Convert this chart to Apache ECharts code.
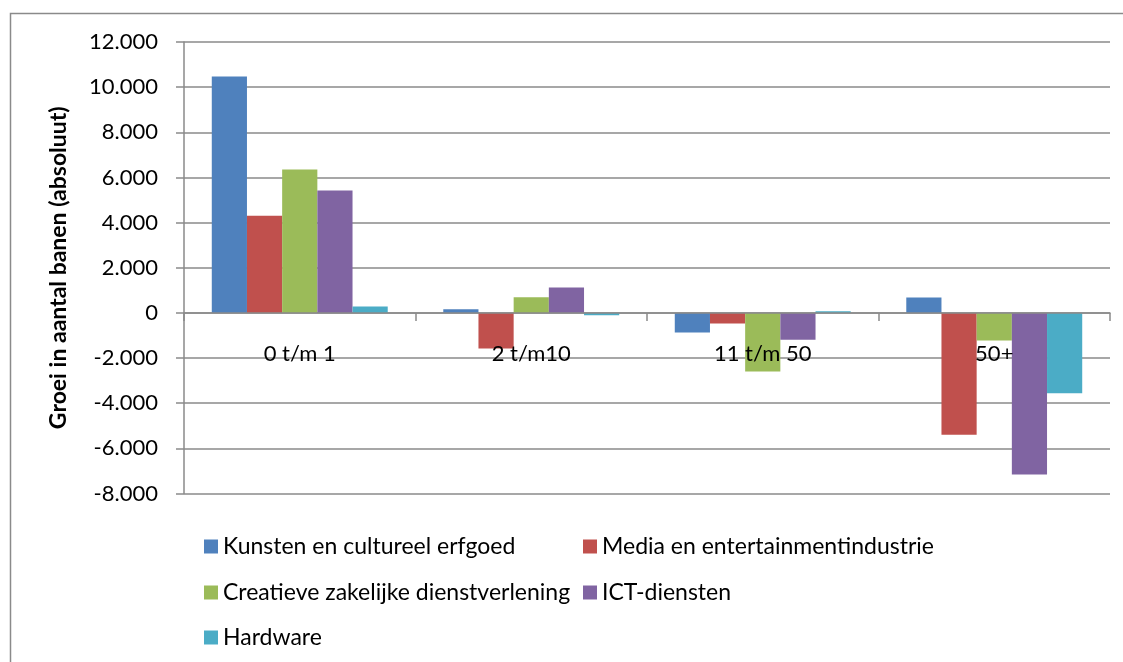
<!DOCTYPE html>
<html><head><meta charset="utf-8">
<script src="https://cdn.jsdelivr.net/npm/echarts@6/dist/echarts.min.js"></script>
<style>html,body{margin:0;padding:0;background:#fff}#c{width:1123px;height:662px}</style>
</head><body><div id="c"></div>
<script>
const categories = ['0 t/m 1', '2 t/m10', '11 t/m 50', '50+'];
const seriesNames = ['Kunsten en cultureel erfgoed', 'Media en entertainmentindustrie', 'Creatieve zakelijke dienstverlening', 'ICT-diensten', 'Hardware'];
const kunsten = [10470, 160, -870, 680];
const media = [4300, -1580, -470, -5400];
const creatieve = [6350, 690, -2600, -1220];
const ict = [5420, 1130, -1190, -7160];
const hardware = [280, -100, 70, -3560];
const colors = ['#4F81BD', '#C0504D', '#9BBB59', '#8064A2', '#4BACC6'];
const yTicks = { min: -8000, max: 12000, interval: 2000 };
const dataSets = [kunsten, media, creatieve, ict, hardware];

const FONT = 'Lato';
const GRID_TOP = 42, GRID_BOTTOM = 168.5, H = 662;
const plotH = H - GRID_TOP - GRID_BOTTOM;
const zeroOffset = -plotH * (0 - yTicks.min) / (yTicks.max - yTicks.min);

// legend placement: [left, top] per series
const legendPos = [[204, 535], [583, 535], [204, 581], [583, 581], [204, 626]];

const chart = echarts.init(document.getElementById('c'), null, { renderer: 'canvas' });
const legendText = { fontFamily: FONT, fontSize: 23, color: '#000', lineHeight: 20 };
chart.setOption({
  animation: false,
  textStyle: { fontFamily: FONT },
  color: colors,
  graphic: [{
    type: 'rect', shape: { x: 10.5, y: 13.5, width: 1200, height: 700 },
    style: { fill: null, stroke: '#8a8a8a', lineWidth: 1.5 }, silent: true, z: -10
  }],
  grid: { left: 184, right: 13, top: GRID_TOP, bottom: GRID_BOTTOM, containLabel: false },
  legend: seriesNames.map((n, i) => ({
    left: legendPos[i][0], top: legendPos[i][1], padding: 0, itemWidth: 14, itemHeight: 14, icon: 'rect',
    data: [n], textStyle: legendText, selectedMode: false
  })),
  xAxis: {
    type: 'category', data: categories, z: 5, offset: zeroOffset,
    axisLine: { onZero: false, lineStyle: { color: '#8a8a8a', width: 1.5 } },
    axisTick: { show: true, length: 8, alignWithLabel: false, lineStyle: { color: '#8a8a8a', width: 1.5 } },
    axisLabel: { color: '#000', fontSize: 22, fontFamily: FONT, margin: 30 },
    splitLine: { show: false }
  },
  yAxis: {
    type: 'value', min: yTicks.min, max: yTicks.max, interval: yTicks.interval,
    name: 'Groei in aantal banen (absoluut)', nameLocation: 'middle', nameGap: 114,
    nameTextStyle: { fontFamily: FONT, fontSize: 23, fontWeight: 'bold', color: '#000' },
    axisLine: { show: true, lineStyle: { color: '#8a8a8a', width: 1.5 } },
    axisTick: { show: true, length: 8, lineStyle: { color: '#8a8a8a', width: 1.5 } },
    axisLabel: {
      color: '#000', fontSize: 22, fontFamily: FONT, margin: 26,
      formatter: v => { const s = Math.abs(v).toString().replace(/\B(?=(\d{3})+(?!\d))/g, '.'); return (v < 0 ? '-' : '') + s; }
    },
    splitLine: { show: true, lineStyle: { color: '#8a8a8a', width: 1.5 } }
  },
  series: seriesNames.map((n, i) => ({
    name: n, type: 'bar', data: dataSets[i], barGap: '0%', barCategoryGap: '24%',
    itemStyle: { color: colors[i] }
  }))
});
</script></body></html>
